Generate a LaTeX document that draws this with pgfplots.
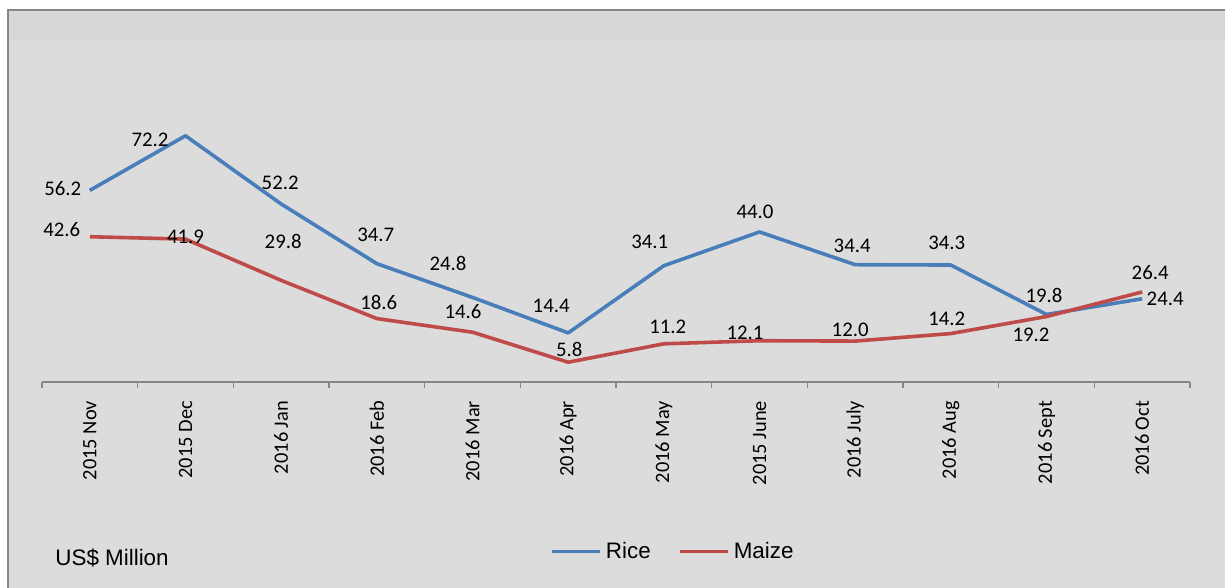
\documentclass[border=0pt]{standalone}
\usepackage{pgfplots}
\pgfplotsset{compat=1.18}
\usepackage{pgfplotstable}
\usepackage{fontspec}
\setmainfont{Carlito}
\newfontfamily\arial{Liberation Sans}
\definecolor{bgc}{RGB}{220,220,220}
\definecolor{bandc}{RGB}{215,215,215}
\definecolor{ricec}{RGB}{74,126,187}
\definecolor{maizec}{RGB}{190,75,72}
\definecolor{axc}{RGB}{134,134,134}

\pgfplotstableread{
x y dx dy
0 56.2 -13.5 0.75
1 72.2 -17.75 -2
2 52.2 -0.5 10.5
3 34.7 -0.5 14.5
4 24.8 -12.25 17
5 14.4 -8.5 13.5
6 34.1 -7 12
7 44.0 -2.25 10
8 34.4 -1.5 9.5
9 34.3 -2 11
10 19.8 -1.25 9.25
11 24.4 11.5 0
}\rice

\pgfplotstableread{
x y dx dy
0 42.6 -14 3.75
1 41.9 0 1
2 29.8 1 19.5
3 18.6 1 8
4 14.6 -4.75 10.5
5 5.8 0.5 6.5
6 11.2 2 8.5
7 12.1 -7.25 4
8 12.0 -2.5 5.5
9 14.2 -2 7.25
10 19.2 -7.75 -9.25
11 26.4 4 9.5
}\maize

\begin{document}
\begin{tikzpicture}
\path[use as bounding box] (0,0) rectangle (612.5pt,294pt);
\fill[white] (0,0) rectangle (612.5pt,294pt);
\fill[bgc] (4pt,0) rectangle (612.5pt,289pt);
\fill[bandc] (4pt,274pt) rectangle (612.5pt,289pt);
\draw[axc, line width=0.8pt] (4pt,0) -- (4pt,289pt) -- (612.5pt,289pt);

\begin{axis}[
  at={(21pt,103pt)}, anchor=south west,
  scale only axis, width=574pt, height=144.93pt,
  xmin=-0.5, xmax=11.5, ymin=0, ymax=85,
  axis y line=none, axis x line=bottom,
  x axis line style={-, draw=axc, line width=0.8pt},
  xtick={0,...,11},
  xticklabels={2015 Nov,2015 Dec,2016 Jan,2016 Feb,2016 Mar,2016 Apr,2016 May,2015 June,2016 July,2016 Aug,2016 Sept,2016 Oct},
  major tick length=0pt,
  xticklabel style={rotate=90, anchor=east, font=\fontsize{10.2}{12}\selectfont, text=black, xshift=-6pt},
  extra x ticks={-0.5,0.5,...,11.5},
  extra x tick labels={},
  extra x tick style={major tick length=3pt, tick align=outside, tick style={draw=axc, line width=0.6pt}},
  clip=false,
  legend style={at={(axis description cs:0.443,-0.5865)}, anchor=west, draw=none, fill=none,
    font=\arial\fontsize{11.2}{13}\selectfont, inner sep=0pt,
    /tikz/every even column/.append style={column sep=12pt}},
  legend columns=2,
  legend image code/.code={\draw[#1, line width=1.5pt] (0pt,0pt) -- (24pt,0pt);},
  every node near coord/.append style={anchor=center, text=black, font=\fontsize{10.4}{12}\selectfont, inner sep=0pt},
  nodes near coords={\pgfmathprintnumber[fixed,fixed zerofill,precision=1,assume math mode=true]{\pgfplotspointmeta}},
]
\addplot[ricec, line width=1.8pt, line join=round, point meta=y,
  visualization depends on={\thisrow{dx}\as\dx},
  visualization depends on={\thisrow{dy}\as\dy},
  every node near coord/.append style={xshift=\dx pt, yshift=\dy pt}]
  table[x=x,y=y]{\rice};
\addlegendentry{Rice}
\addplot[maizec, line width=1.8pt, line join=round, point meta=y,
  visualization depends on={\thisrow{dx}\as\dx},
  visualization depends on={\thisrow{dy}\as\dy},
  every node near coord/.append style={xshift=\dx pt, yshift=\dy pt}]
  table[x=x,y=y]{\maize};
\addlegendentry{Maize}
\end{axis}

\node[anchor=west, font=\arial\fontsize{11.2}{13}\selectfont, inner sep=0pt] at (27.5pt,15pt) {US\$ Million};
\end{tikzpicture}
\end{document}
